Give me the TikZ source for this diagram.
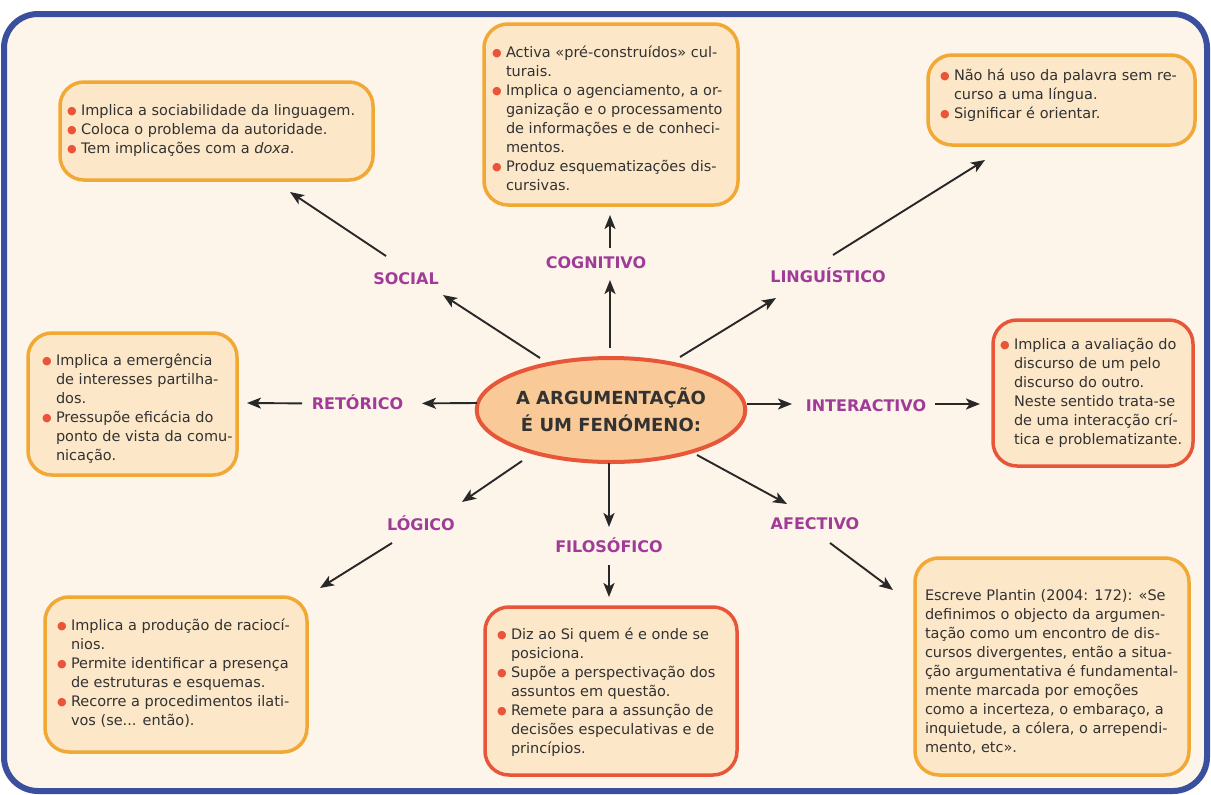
\documentclass[tikz,border=0pt]{standalone}
\usepackage{fontspec}
\setmainfont{DejaVu Sans}
\usetikzlibrary{shapes.geometric,arrows.meta}

\definecolor{frameblue}{RGB}{58,80,158}
\definecolor{paper}{RGB}{253,244,234}
\definecolor{boxfill}{RGB}{253,231,201}
\definecolor{orangeline}{RGB}{242,168,52}
\definecolor{redline}{RGB}{232,86,58}
\definecolor{ovalfill}{RGB}{249,202,152}
\definecolor{bulletred}{RGB}{234,84,56}
\definecolor{labelpurple}{RGB}{160,60,152}
\definecolor{ink}{RGB}{50,50,50}
\definecolor{arrowink}{RGB}{40,40,40}

\newcommand\bodyfont{\fontsize{14.5}{19}\selectfont}
% bullet column of the lists
\newcommand\itm{\makebox[14pt][l]{\textcolor{bulletred}{\fontsize{11}{11}\selectfont\raisebox{1pt}{●}}}}
% #1 width of the text area, #2 vertical nudge, #3 rows of the list
\newcommand\boxtext[3]{\makebox[#1][l]{\raisebox{#2}[\height][\depth]{\begin{tabular}{@{}l@{}l@{}}#3\end{tabular}}}}

\tikzset{
  infobox/.style={draw=orangeline, line width=3.5pt, fill=boxfill, rounded corners=24pt,
    inner ysep=4pt, text=ink, font=\bodyfont},
  redbox/.style={infobox, draw=redline},
  theme/.style={text=labelpurple, font=\fontsize{16}{16}\selectfont\bfseries,
    inner sep=0pt, text height=12pt, text depth=0pt},
  arr/.style={draw=arrowink, line width=1.9pt, -{Stealth[length=14pt,width=11pt,inset=3.5pt]}},
}

\begin{document}
\begin{tikzpicture}[x=1pt,y=-1pt]
\useasboundingbox (0,0) rectangle (1211,795);
\fill[white] (0,0) rectangle (1211,795);

% frame
\draw[frameblue, line width=6pt, fill=paper, rounded corners=34pt] (4,14) rectangle (1207,791);

% central oval
\node[ellipse, draw=redline, line width=4pt, fill=ovalfill, minimum width=252pt, minimum height=104pt,
  inner sep=0pt, align=center, text=ink, font=\fontsize{18}{27}\selectfont\bfseries] (c) at (611,410)
  {A ARGUMENTAÇÃO\\É UM FENÓMENO:};

% theme labels
\node[theme] (soclab) at (406,278) {SOCIAL};
\node[theme] (coglab) at (596,262.5) {COGNITIVO};
\node[theme] (linlab) at (828,276) {LINGUÍSTICO};
\node[theme] (retlab) at (357.5,403.4) {RETÓRICO};
\node[theme] (intlab) at (866,405) {INTERACTIVO};
\node[theme] (loglab) at (421,524) {LÓGICO};
\node[theme] (fillab) at (609,546) {FILOSÓFICO};
\node[theme] (afelab) at (815,523) {AFECTIVO};

% description boxes
\node[infobox, inner xsep=7pt, minimum height=98pt] (socbox) at (216.5,131)
  {\boxtext{299pt}{0pt}{%
    \itm & Implica a sociabilidade da linguagem.\\
    \itm & Coloca o problema da autoridade.\\
    \itm & Tem implicações com a \textit{doxa}.}};

\node[infobox, inner xsep=8pt, minimum height=181pt] (cogbox) at (611,114.5)
  {\boxtext{238pt}{-6pt}{%
    \itm & Activa «pré-construídos» cul-\\
         & turais.\\
    \itm & Implica o agenciamento, a or-\\
         & ganização e o processamento\\
         & de informações e de conheci-\\
         & mentos.\\
    \itm & Produz esquematizações dis-\\
         & cursivas.}};

\node[infobox, inner xsep=12pt, minimum height=90pt] (linbox) at (1061.5,100)
  {\boxtext{243pt}{4pt}{%
    \itm & Não há uso da palavra sem re-\\
         & curso a uma língua.\\
    \itm & Significar é orientar.}};

\node[infobox, inner xsep=14pt, minimum height=142pt] (retbox) at (132.5,404)
  {\boxtext{181pt}{-5pt}{%
    \itm & Implica a emergência\\
         & de interesses partilha-\\
         & dos.\\
    \itm & Pressupõe eficácia do\\
         & ponto de vista da comu-\\
         & nicação.}};

\node[redbox, inner xsep=7pt, minimum height=146pt] (intbox) at (1093,393)
  {\boxtext{186pt}{0pt}{%
    \itm & Implica a avaliação do\\
         & discurso de um pelo\\
         & discurso do outro.\\
         & Neste sentido trata-se\\
         & de uma interacção crí-\\
         & tica e problematizante.}};

\node[infobox, inner xsep=12pt, minimum height=155pt] (logbox) at (176,674.5)
  {\boxtext{238pt}{0pt}{%
    \itm & Implica a produção de raciocí-\\
         & nios.\\
    \itm & Permite identificar a presença\\
         & de estruturas e esquemas.\\
    \itm & Recorre a procedimentos ilati-\\
         & vos (se... então).}};

\node[redbox, inner xsep=12pt, minimum height=168pt] (filbox) at (611,691)
  {\boxtext{228pt}{-2pt}{%
    \itm & Diz ao Si quem é e onde se\\
         & posiciona.\\
    \itm & Supõe a perspectivação dos\\
         & assuntos em questão.\\
    \itm & Remete para a assunção de\\
         & decisões especulativas e de\\
         & princípios.}};

\node[infobox, inner xsep=10pt, minimum height=217pt] (afebox) at (1052,666.5)
  {\boxtext{254pt}{-6pt}{%
    & Escreve Plantin (2004: 172): «Se\\
    & definimos o objecto da argumen-\\
    & tação como um encontro de dis-\\
    & cursos divergentes, então a situa-\\
    & ção argumentativa é fundamental-\\
    & mente marcada por emoções\\
    & como a incerteza, o embaraço, a\\
    & inquietude, a cólera, o arrependi-\\
    & mento, etc».}};

% connectors: oval -> theme -> description
\draw[arr] ([shift={(-71,-52)}]c.center) -- ([shift={(37,17)}]soclab.center);
\draw[arr] ([shift={(-20,-22)}]soclab.center) -- ([shift={(73.5,61)}]socbox.center);

\draw[arr] ([shift={(-1,-62)}]c.center) -- ([shift={(14,17.5)}]coglab.center);
\draw[arr] ([shift={(14,-14.5)}]coglab.center) -- ([shift={(-1,100.5)}]cogbox.center);

\draw[arr] ([shift={(69,-53)}]c.center) -- ([shift={(-52,22)}]linlab.center);
\draw[arr] ([shift={(5,-21)}]linlab.center) -- ([shift={(-76.5,60)}]linbox.center);

\draw[arr] ([shift={(-134,-7)}]c.center) -- ([shift={(64.5,0)}]retlab.center);
\draw[arr] ([shift={(-55.5,0)}]retlab.center) -- ([shift={(114.5,-1)}]retbox.center);

\draw[arr] ([shift={(136,-6)}]c.center) -- ([shift={(-74,-1)}]intlab.center);
\draw[arr] ([shift={(69,-1)}]intlab.center) -- ([shift={(-113,11)}]intbox.center);

\draw[arr] ([shift={(-89,51)}]c.center) -- ([shift={(41,-22)}]loglab.center);
\draw[arr] ([shift={(-29,19)}]loglab.center) -- ([shift={(144,-86.5)}]logbox.center);

\draw[arr] ([shift={(-2,53)}]c.center) -- ([shift={(0,-19)}]fillab.center);
\draw[arr] ([shift={(0,19)}]fillab.center) -- ([shift={(-2,-94)}]filbox.center);

\draw[arr] ([shift={(86,45)}]c.center) -- ([shift={(-28,-19)}]afelab.center);
\draw[arr] ([shift={(15,20)}]afelab.center) -- ([shift={(-159,-76.5)}]afebox.center);
\end{tikzpicture}
\end{document}
